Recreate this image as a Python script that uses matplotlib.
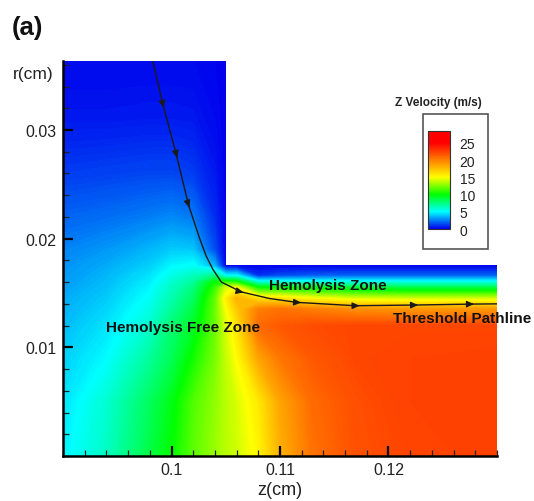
import numpy as np
import matplotlib
matplotlib.use("Agg")
import matplotlib.pyplot as plt
from matplotlib.colors import LinearSegmentedColormap, Normalize
from matplotlib.cm import ScalarMappable
from matplotlib.patches import Rectangle
from matplotlib.ticker import MultipleLocator

plt.rcParams['font.family'] = ['Liberation Sans', 'DejaVu Sans']

# ---- data ----
Z_NODES = [0.090, 0.094, 0.098, 0.100, 0.102, 0.104, 0.105, 0.106, 0.108, 0.110, 0.113, 0.117, 0.122, 0.130]
R_NODES = [0.0, 0.005, 0.009, 0.012, 0.0135, 0.0145, 0.0155, 0.016, 0.0166, 0.0175, 0.019, 0.022, 0.026, 0.031, 0.03635]
NA = np.nan
VZ_R000 = [4.8, 6.2, 8.7, 10.0, 11.8, 13.0, 13.6, 14.0, 15.3, 18.0, 20.5, 21.8, 22.3, 22.5]
VZ_R005 = [4.5, 5.9, 8.2, 9.6, 11.5, 12.8, 13.6, 14.2, 15.8, 18.5, 20.8, 21.9, 22.4, 22.5]
VZ_R009 = [4.1, 5.0, 7.0, 8.3, 10.3, 12.3, 13.8, 15.0, 18.5, 20.3, 21.5, 22.2, 22.4, 22.5]
VZ_R012 = [3.7, 4.5, 6.0, 7.8, 9.2, 12.0, 14.2, 16.0, 20.8, 21.5, 22.0, 22.2, 22.2, 22.2]
VZ_R0135 = [3.5, 4.2, 5.5, 7.0, 8.6, 12.0, 14.8, 17.0, 20.0, 20.5, 20.0, 19.3, 19.0, 19.0]
VZ_R0145 = [3.4, 4.0, 5.2, 6.6, 8.1, 11.8, 15.5, 18.0, 16.2, 16.0, 15.0, 14.2, 14.0, 14.0]
VZ_R0155 = [3.2, 3.8, 4.9, 6.2, 7.5, 11.0, 14.0, 15.0, 10.0, 9.8, 9.5, 8.8, 8.5, 8.5]
VZ_R016 = [3.1, 3.7, 4.7, 5.9, 7.0, 10.0, 11.0, 10.5, 5.8, 5.8, 5.7, 5.5, 5.5, 5.5]
VZ_R0166 = [3.0, 3.6, 4.5, 5.5, 6.3, 7.5, 5.0, 5.0, 1.0, 1.5, 1.8, 2.0, 2.0, 2.0]
VZ_R0175 = [2.9, 3.4, 4.1, 4.9, 5.2, 3.5, 0.0, 0.0, 0.0, 0.0, 0.0, 0.0, 0.0, 0.0]
VZ_R019 = [2.6, 3.0, 3.6, 4.0, 3.9, 1.5, 0.0, NA, NA, NA, NA, NA, NA, NA]
VZ_R022 = [2.0, 2.2, 2.5, 2.7, 2.4, 0.9, 0.0, NA, NA, NA, NA, NA, NA, NA]
VZ_R026 = [1.2, 1.3, 1.4, 1.4, 1.2, 0.5, 0.0, NA, NA, NA, NA, NA, NA, NA]
VZ_R031 = [0.5, 0.5, 0.55, 0.55, 0.5, 0.2, 0.0, NA, NA, NA, NA, NA, NA, NA]
VZ_R036 = [0.2, 0.2, 0.2, 0.2, 0.2, 0.1, 0.0, NA, NA, NA, NA, NA, NA, NA]

PATH_Z = [0.09827, 0.0992, 0.10043, 0.10157, 0.1026, 0.1032, 0.1038, 0.1046, 0.10644, 0.109, 0.11152, 0.11691, 0.1223, 0.1277, 0.1300]
PATH_R = [0.03635, 0.0324, 0.0278, 0.0231, 0.0200, 0.0184, 0.0172, 0.0160, 0.0151, 0.0145, 0.01414, 0.01383, 0.01389, 0.01398, 0.0140]
ARROW_IDX = [1, 2, 3, 8, 10, 11, 12, 13]

X_TICKS = [0.1, 0.11, 0.12]
X_TICKLABELS = ['0.1', '0.11', '0.12']
Y_TICKS = [0.01, 0.02, 0.03]
Y_TICKLABELS = ['0.01', '0.02', '0.03']
CB_TICKS = [0, 5, 10, 15, 20, 25]
VMAX = 28.5

# ---- figure ----
vz = np.ma.masked_invalid(np.array([VZ_R000, VZ_R005, VZ_R009, VZ_R012, VZ_R0135, VZ_R0145,
                                    VZ_R0155, VZ_R016, VZ_R0166, VZ_R0175, VZ_R019, VZ_R022,
                                    VZ_R026, VZ_R031, VZ_R036]))

cmap = LinearSegmentedColormap.from_list(
    'tec', [(0.0, (0.0, 0.0, 0.93)), (5 / VMAX, (0.0, 1.0, 1.0)), (10 / VMAX, (0.0, 1.0, 0.0)),
            (15 / VMAX, (1.0, 1.0, 0.0)), (25 / VMAX, (1.0, 0.0, 0.0)), (1.0, (1.0, 0.0, 0.0))])

fig = plt.figure(figsize=(5.34, 5.02), dpi=100)
ax = fig.add_axes([63 / 534, 45 / 502, 434 / 534, 395 / 502])

levels = np.linspace(0, VMAX, 571)
ax.contourf(Z_NODES, R_NODES, vz, levels=levels, cmap=cmap, vmin=0, vmax=VMAX,
            antialiased=False, corner_mask=False)

ax.plot(PATH_Z, PATH_R, color='#1a1a1a', lw=1.0, zorder=3)
for i in ARROW_IDX:
    z0, r0 = PATH_Z[i], PATH_R[i]
    z1, r1 = PATH_Z[i + 1], PATH_R[i + 1]
    ax.annotate('', xy=(z0 + 0.08 * (z1 - z0), r0 + 0.08 * (r1 - r0)), xytext=(z0, r0),
                arrowprops=dict(arrowstyle='-|>,head_length=0.45,head_width=0.2',
                                color='#1a1a1a', lw=0.8, shrinkA=0, shrinkB=0), zorder=4)

ax.set_xlim(0.09, 0.13)
ax.set_ylim(0, 0.03635)
for s in ['top', 'right']:
    ax.spines[s].set_visible(False)
for s in ['left', 'bottom']:
    ax.spines[s].set_linewidth(1.8)
    ax.spines[s].set_color('black')
    ax.spines[s].set_zorder(5)

ax.set_xticks(X_TICKS)
ax.set_xticklabels(X_TICKLABELS)
ax.set_yticks(Y_TICKS)
ax.set_yticklabels(Y_TICKLABELS)
ax.xaxis.set_minor_locator(MultipleLocator(0.002))
ax.yaxis.set_minor_locator(MultipleLocator(0.002))
ax.tick_params(which='major', direction='in', length=7.5, width=1.6, labelsize=11.5,
               pad=4, color='black', labelcolor='#222222')
ax.tick_params(which='minor', direction='in', length=4.5, width=0.9, color='#222222')
ax.tick_params(axis='y', which='major', pad=5)

ax.set_xlabel('z(cm)', fontsize=13, labelpad=3, color='#222222')
fig.text(33 / 534, 1 - 74 / 502, 'r(cm)', fontsize=12.5, ha='center', va='center', color='#222222')
fig.text(27.5 / 534, 1 - 27.5 / 502, '(a)', fontsize=18.5, fontweight='bold', ha='center',
         va='center', color='#111111')

ax.text(0.10896, 0.01536, 'Hemolysis Zone', fontsize=11, fontweight='bold', ha='left',
        va='baseline', color='#111111', zorder=6)
ax.text(0.12043, 0.0123, 'Threshold Pathline', fontsize=11, fontweight='bold', ha='left',
        va='baseline', color='#111111', zorder=6, clip_on=False)
ax.text(0.0940, 0.01153, 'Hemolysis Free Zone', fontsize=11, fontweight='bold', ha='left',
        va='baseline', color='#111111', zorder=6)

# legend box + colorbar
fig.patches.append(Rectangle((423 / 534, 252 / 502), 65 / 534, 135 / 502, transform=fig.transFigure,
                             fill=False, ec='#555555', lw=1.2))
fig.text(438 / 534, 1 - 103 / 502, 'Z Velocity (m/s)', fontsize=8.5, fontweight='bold',
         ha='center', va='center', color='#222222')
cax = fig.add_axes([428.3 / 534, (502 - 230) / 502, 21.7 / 534, 98.3 / 502])
sm = ScalarMappable(norm=Normalize(0, VMAX), cmap=cmap)
cb = fig.colorbar(sm, cax=cax, ticks=CB_TICKS)
cb.ax.tick_params(length=0, labelsize=10, pad=7, labelcolor='#222222')
cb.outline.set_linewidth(0.8)
cb.outline.set_edgecolor('#333333')

fig.savefig('out.png', dpi=100)
